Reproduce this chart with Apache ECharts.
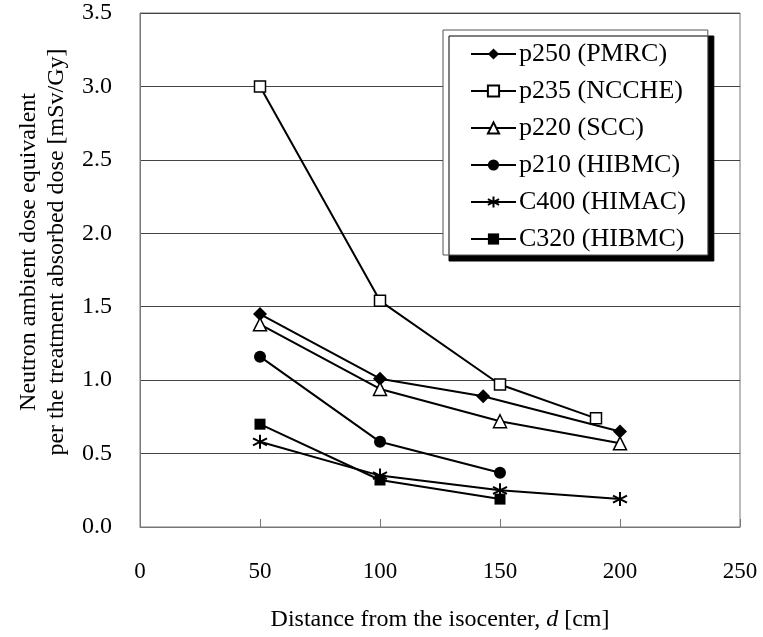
<!DOCTYPE html>
<html>
<head>
<meta charset="utf-8">
<script src="https://cdn.jsdelivr.net/npm/echarts@6/dist/echarts.min.js"></script>
<style>
  html, body { margin: 0; padding: 0; background: #fff; }
  #main { width: 763px; height: 637px; }
</style>
</head>
<body>
<div id="main"></div>
<script>
// data
var seriesNames = ['p250 (PMRC)', 'p235 (NCCHE)', 'p220 (SCC)', 'p210 (HIBMC)', 'C400 (HIMAC)', 'C320 (HIBMC)'];

var p250Dist = [50, 100, 143, 200];
var p250Dose = [1.45, 1.01, 0.89, 0.65];

var p235Dist = [50, 100, 150, 190];
var p235Dose = [3.00, 1.54, 0.97, 0.74];

var p220Dist = [50, 100, 150, 200];
var p220Dose = [1.38, 0.94, 0.72, 0.57];

var p210Dist = [50, 100, 150];
var p210Dose = [1.16, 0.58, 0.37];

var c400Dist = [50, 100, 150, 200];
var c400Dose = [0.58, 0.35, 0.25, 0.19];

var c320Dist = [50, 100, 150];
var c320Dose = [0.70, 0.32, 0.19];

var xTicks = [0, 50, 100, 150, 200, 250];
var yTicks = [0, 0.5, 1.0, 1.5, 2.0, 2.5, 3.0, 3.5];

var FONT = '"Liberation Serif", "Times New Roman", serif';
var asterisk = 'path://M5 0 L5 10 M0.7 2.5 L9.3 7.5 M0.7 7.5 L9.3 2.5';

function pairs(xs, ys) {
    return xs.map(function (x, i) { return [x, ys[i]]; });
}

function makeSeries(name, xs, ys, symbol, size, filled) {
    return {
        name: name,
        type: 'line',
        data: pairs(xs, ys),
        symbol: symbol,
        symbolSize: size,
        lineStyle: { color: '#000', width: 2 },
        itemStyle: {
            color: filled ? '#000' : '#fff',
            borderColor: '#000',
            borderWidth: filled ? 0 : 1.5
        },
        emphasis: { disabled: true }
    };
}

var chart = echarts.init(document.getElementById('main'));

var series = [
    makeSeries(seriesNames[0], p250Dist, p250Dose, 'diamond', 14, true),
    makeSeries(seriesNames[1], p235Dist, p235Dose, 'rect', 11, false),
    makeSeries(seriesNames[2], p220Dist, p220Dose, 'triangle', 13, false),
    makeSeries(seriesNames[3], p210Dist, p210Dose, 'circle', 12, true),
    makeSeries(seriesNames[4], c400Dist, c400Dose, asterisk, 14, false),
    makeSeries(seriesNames[5], c320Dist, c320Dose, 'rect', 11, true)
];
// asterisk is stroke only
series[4].itemStyle = { color: 'transparent', borderColor: '#000', borderWidth: 2 };

var option = {
    backgroundColor: '#fff',
    animation: false,
    textStyle: { fontFamily: FONT },
    grid: {
        left: 140, right: 23, top: 13, bottom: 109,
        show: true,
        borderColor: '#777',
        borderWidth: 1
    },
    legend: {
        orient: 'vertical',
        left: 443,
        top: 30,
        padding: [11, 22, 3, 27],
        itemWidth: 45,
        itemHeight: 14,
        itemGap: 11,
        backgroundColor: '#fff',
        borderColor: '#555',
        borderWidth: 1,
        shadowColor: '#000',
        shadowBlur: 0,
        shadowOffsetX: 6,
        shadowOffsetY: 6,
        textStyle: { fontFamily: FONT, fontSize: 26, color: '#000', lineHeight: 26, padding: [0, 0, 0, -2] },
        data: seriesNames
    },
    xAxis: {
        type: 'value',
        min: xTicks[0],
        max: xTicks[xTicks.length - 1],
        interval: 50,
        name: 'Distance from the isocenter, {i|d} [cm]',
        nameLocation: 'middle',
        nameGap: 81,
        nameTextStyle: {
            fontFamily: FONT, fontSize: 24, color: '#000',
            rich: { i: { fontFamily: FONT, fontSize: 24, fontStyle: 'italic', color: '#000' } }
        },
        axisLine: { show: true, lineStyle: { color: '#777', width: 1 } },
        axisTick: { show: true, inside: true, length: 8, lineStyle: { color: '#777' } },
        axisLabel: { fontFamily: FONT, fontSize: 23, color: '#000', margin: 33 },
        splitLine: { show: false }
    },
    yAxis: {
        type: 'value',
        min: yTicks[0],
        max: yTicks[yTicks.length - 1],
        interval: 0.5,
        name: 'Neutron ambient dose equivalent\nper the treatment absorbed dose [mSv/Gy]',
        nameLocation: 'middle',
        nameGap: 61,
        nameTextStyle: {
            fontFamily: FONT, fontSize: 24, color: '#000', lineHeight: 28,
            padding: [0, 0, 0, 36]
        },
        axisLine: { show: true, lineStyle: { color: '#777', width: 1 } },
        axisTick: { show: false },
        axisLabel: {
            fontFamily: FONT, fontSize: 24, color: '#000', margin: 28,
            formatter: function (v) { return v.toFixed(1); }
        },
        splitLine: { show: true, lineStyle: { color: '#444', width: 1 } }
    },
    series: series
};

chart.setOption(option);
</script>
</body>
</html>
